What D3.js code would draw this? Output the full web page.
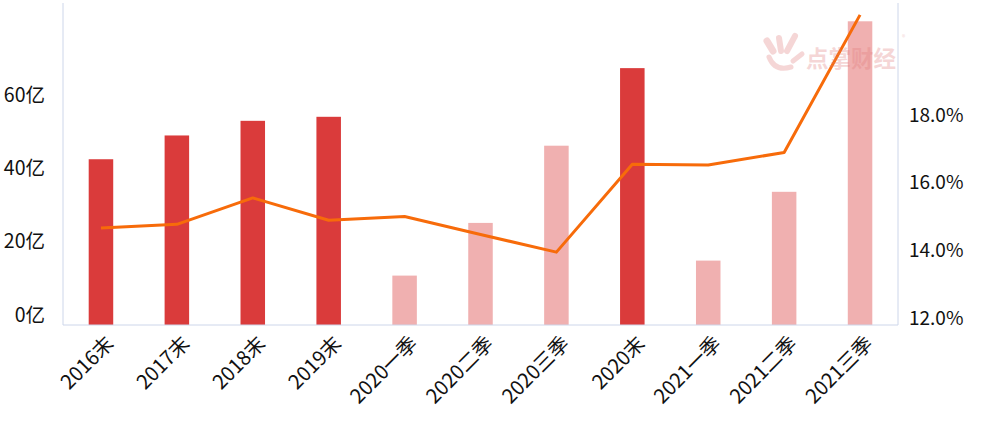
<!DOCTYPE html>
<html><head><meta charset="utf-8">
<script src="https://cdn.jsdelivr.net/npm/d3@7"></script>
<style>
html,body{margin:0;padding:0;background:#fff;}
svg{display:block;font-family:"Noto Sans CJK SC","Noto Sans",sans-serif;}
</style></head>
<body><svg id="c" width="995" height="427"></svg>
<script>
const categories = ["2016末","2017末","2018末","2019末","2020一季","2020二季","2020三季","2020末","2021一季","2021二季","2021三季"];
const amounts = [45.3, 51.8, 55.8, 56.9, 13.5, 27.9, 49.0, 70.2, 17.6, 36.4, 83.0];
const ratios = [14.86, 14.97, 15.75, 15.09, 15.20, 14.67, 14.15, 16.74, 16.72, 17.09, 21.15];
const leftTicks = [0, 20, 40, 60];
const leftTickLabels = ["0亿","20亿","40亿","60亿"];
const rightTicks = [12, 14, 16, 18];
const rightTickLabels = ["12.0%","14.0%","16.0%","18.0%"];

const W = 995, H = 427;
const m = {left: 63, right: 97, top: 3, bottom: 102};
const svg = d3.select("#c");
const x = d3.scaleBand().domain(categories).range([m.left, W - m.right]).paddingInner(0.677).paddingOuter(0.3385);
const yL = d3.scaleLinear().domain([0, 88]).range([H - m.bottom, m.top]);
const yR = d3.scaleLinear().domain([12, 21.5]).range([H - m.bottom, m.top]);

const axisColor = "#cdd6ea";
// bars
svg.append("g").selectAll("rect").data(categories).join("rect")
  .attr("x", d => x(d))
  .attr("width", x.bandwidth())
  .attr("y", (d, i) => yL(amounts[i]))
  .attr("height", (d, i) => yL(0) - yL(amounts[i]))
  .attr("fill", d => d.endsWith("末") ? "#da3b3b" : "#f0b0b0");

// axes frame
const gL = svg.append("g").attr("transform", `translate(${m.left},0)`)
  .call(d3.axisLeft(yL).tickValues(leftTicks).tickFormat((d, i) => leftTickLabels[i]).tickSize(0).tickPadding(18));
gL.select(".domain").attr("stroke", axisColor).attr("d", `M0,${m.top}V${H - m.bottom}`);
gL.selectAll("text").attr("font-size", 19.5).attr("fill", "#111").attr("dy", "-0.2em")
  .attr("font-family", "'Noto Sans CJK SC',sans-serif");

const gR = svg.append("g").attr("transform", `translate(${W - m.right},0)`)
  .call(d3.axisRight(yR).tickValues(rightTicks).tickFormat((d, i) => rightTickLabels[i]).tickSize(0).tickPadding(11));
gR.select(".domain").attr("stroke", axisColor).attr("d", `M0,${m.top}V${H - m.bottom}`);
gR.selectAll("text").attr("font-size", 19).attr("fill", "#111").attr("dy", "-0.03em")
  .attr("font-family", "'Noto Sans CJK SC',sans-serif");

const gB = svg.append("g").attr("transform", `translate(0,${H - m.bottom})`)
  .call(d3.axisBottom(x).tickSize(0).tickFormat(""));
gB.select(".domain").attr("stroke", axisColor).attr("d", `M${m.left},0H${W - m.right}`);

// x labels rotated
svg.append("g").selectAll("text").data(categories).join("text")
  .attr("transform", d => `translate(${x(d) + x.bandwidth() / 2 + 9},${H - m.bottom + 15}) rotate(-45)`)
  .attr("text-anchor", "end")
  .attr("dy", "0.35em")
  .attr("font-size", 20)
  .attr("fill", "#111")
  .text(d => d);

// line
const line = d3.line().x((d, i) => x(categories[i]) + x.bandwidth() / 2).y(d => yR(d));
svg.append("path").datum(ratios).attr("d", line)
  .attr("fill", "none").attr("stroke", "#f76b0a").attr("stroke-width", 3).attr("stroke-linejoin", "round");

// watermark
const wm = svg.append("g").attr("opacity", 0.3).attr("fill", "#e07a7a");
wm.append("text").attr("x", 806).attr("y", 67).attr("font-size", 22.5).attr("font-weight", "bold").text("点掌财经");
wm.append("text").attr("x", 902).attr("y", 40).attr("font-size", 7).text("®");
const hand = wm.append("g").attr("stroke", "#e07a7a").attr("stroke-linecap", "round").attr("fill", "none");
hand.append("line").attr("x1", 767).attr("y1", 41).attr("x2", 773).attr("y2", 51).attr("stroke-width", 7);
hand.append("line").attr("x1", 779).attr("y1", 38).attr("x2", 781).attr("y2", 51).attr("stroke-width", 6);
hand.append("line").attr("x1", 795).attr("y1", 36).attr("x2", 787).attr("y2", 51).attr("stroke-width", 6);
hand.append("line").attr("x1", 802).attr("y1", 54).attr("x2", 793).attr("y2", 61).attr("stroke-width", 5);
hand.append("path").attr("d", "M769,57 Q775,72 791,67").attr("stroke-width", 5);
</script></body></html>
